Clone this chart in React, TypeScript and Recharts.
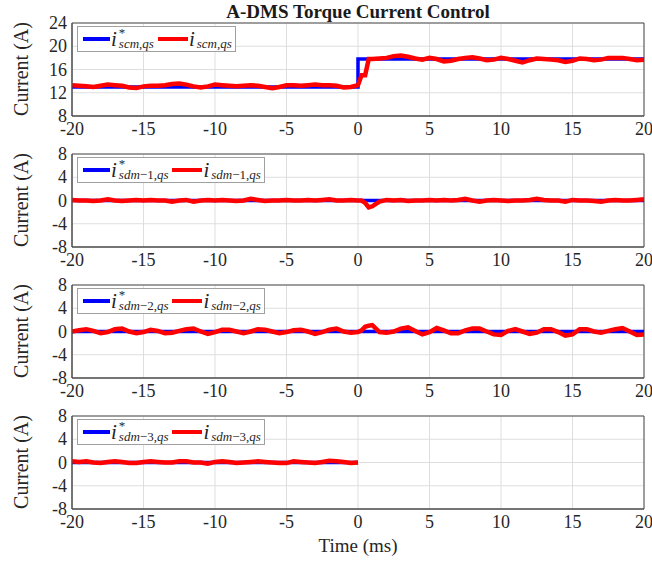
import { CartesianGrid, Line, LineChart, ReferenceArea, XAxis, YAxis } from "recharts";

const FONT = "Liberation Serif, DejaVu Serif, serif";

// time axis (ms), with a few extra samples around the step at t = 0
const time = [
  -20, -19.5, -19, -18.5, -18, -17.5, -17, -16.5, -16, -15.5,
  -15, -14.5, -14, -13.5, -13, -12.5, -12, -11.5, -11, -10.5,
  -10, -9.5, -9, -8.5, -8, -7.5, -7, -6.5, -6, -5.5,
  -5, -4.5, -4, -3.5, -3, -2.5, -2, -1.5, -1, -0.5,
  0, 0.25, 0.5, 0.75, 1, 1.5, 2, 2.5, 3, 3.5,
  4, 4.5, 5, 5.5, 6, 6.5, 7, 7.5, 8, 8.5,
  9, 9.5, 10, 10.5, 11, 11.5, 12, 12.5, 13, 13.5,
  14, 14.5, 15, 15.5, 16, 16.5, 17, 17.5, 18, 18.5,
  19, 19.5, 20,
];

const timeTicks = [-20, -15, -10, -5, 0, 5, 10, 15, 20];
const scmTicks = [8, 12, 16, 20, 24];
const sdmTicks = [-8, -4, 0, 4, 8];

// reference currents (step points)
const refScmTime = [-20, 0, 20];
const refScm = [13.0, 17.8, 17.8];
const refSdmTime = [-20, 20];
const refSdm1 = [0, 0];
const refSdm2 = [0, 0];
const refSdm3Time = [-20, 0];
const refSdm3 = [0, 0];

// measured currents
const measScm = [
  13.3, 13.2, 13.1, 13.0, 13.2, 13.4, 13.3, 13.2, 12.9, 12.8,
  13.1, 13.2, 13.2, 13.3, 13.5, 13.6, 13.4, 13.1, 12.9, 13.1,
  13.4, 13.3, 13.2, 13.1, 13.2, 13.3, 13.2, 13.0, 12.8, 13.0,
  13.3, 13.3, 13.2, 13.3, 13.4, 13.3, 13.3, 13.2, 12.9, 13.0,
  13.3, 15.0, 15.0, 17.8, 17.8, 17.9, 18.0, 18.3, 18.4, 18.2,
  17.9, 17.7, 18.0, 17.8, 17.4, 17.5, 17.8, 18.0, 18.1, 17.9,
  17.6, 17.7, 18.0, 17.8, 17.5, 17.2, 17.6, 17.9, 17.8, 17.7,
  17.6, 17.3, 17.5, 17.9, 17.8, 17.6, 17.7, 18.0, 18.0, 18.0,
  17.8, 17.6, 17.7,
];

const measSdm1 = [
  0.1, 0.0, 0.0, -0.1, 0.0, 0.2, 0.0, -0.1, 0.0, 0.1,
  0.0, 0.1, 0.0, 0.0, -0.2, 0.0, 0.1, -0.2, 0.0, 0.1,
  0.0, 0.1, 0.0, -0.1, 0.0, 0.3, 0.1, -0.1, 0.0, 0.0,
  0.1, 0.0, 0.0, 0.1, 0.0, 0.1, 0.2, 0.0, 0.0, 0.1,
  0.0, 0.0, -0.4, -1.2, -1.0, -0.2, 0.1, 0.0, 0.1, -0.1,
  0.0, 0.0, 0.1, 0.0, 0.1, 0.0, 0.1, 0.3, 0.0, -0.2,
  0.0, 0.1, 0.0, -0.1, 0.0, 0.0, 0.1, 0.3, 0.1, 0.0,
  0.0, -0.2, 0.1, 0.0, 0.0, -0.1, -0.2, 0.0, 0.1, 0.0,
  0.0, 0.1, 0.2,
];

const measSdm2 = [
  0.0, 0.2, 0.4, 0.1, -0.3, -0.1, 0.4, 0.5, 0.0, -0.3,
  -0.1, 0.3, 0.1, -0.3, -0.2, 0.1, 0.4, 0.5, 0.0, -0.4,
  -0.1, 0.3, 0.3, 0.0, -0.3, 0.0, 0.4, 0.3, 0.0, -0.3,
  -0.1, 0.2, 0.3, 0.0, -0.4, -0.1, 0.3, 0.5, 0.0, -0.2,
  -0.1, 0.2, 0.8, 1.0, 1.1, -0.1, -0.2, 0.0, 0.5, 0.7,
  0.1, -0.5, -0.1, 0.6, 0.2, -0.3, -0.3, 0.2, 0.5, 0.5,
  0.0, -0.5, -0.6, 0.1, 0.4, 0.0, -0.4, -0.2, 0.4, 0.4,
  -0.1, -0.7, -0.5, 0.4, 0.4, 0.0, -0.2, 0.1, 0.4, 0.6,
  0.0, -0.6, -0.5,
];

// only recorded up to t = 0
const measSdm3 = [
  0.2, 0.1, 0.2, 0.0, -0.1, 0.1, 0.2, 0.1, -0.1, -0.1,
  0.1, 0.2, 0.1, 0.0, 0.0, 0.2, 0.2, 0.0, 0.0, -0.2,
  0.1, 0.2, 0.1, -0.1, 0.0, 0.1, 0.2, 0.1, 0.0, -0.1,
  -0.1, 0.2, 0.1, 0.0, -0.1, 0.1, 0.3, 0.2, 0.1, -0.1,
  0.0,
];

const toPoints = (ts: number[], vs: number[]) => vs.map((v, i) => ({ t: ts[i], v }));

const XTick = (props: any) => (
  <text x={props.x} y={props.y} dy="0.72em" textAnchor="middle" fontSize={18} fill="#262626" style={{ fontFamily: FONT }}>
    {props.payload.value}
  </text>
);

const YTick = (props: any) => (
  <text x={props.x} y={props.y} dy="0.34em" textAnchor="end" fontSize={18} fill="#262626" style={{ fontFamily: FONT }}>
    {props.payload.value}
  </text>
);

function Script({ text }: { text: string }) {
  return (
    <>
      {text.split("").map((c, i) => (
        <span key={i} style={{ fontStyle: /[a-z]/.test(c) ? "italic" : "normal" }}>
          {c}
        </span>
      ))}
    </>
  );
}

function Symbol({ star, sub }: { star?: boolean; sub: string }) {
  return (
    <span style={{ display: "inline-flex", alignItems: "flex-start", whiteSpace: "nowrap" }}>
      <span style={{ fontStyle: "italic", fontSize: 21, lineHeight: "22px", marginRight: 2 }}>i</span>
      <span style={{ display: "inline-flex", flexDirection: "column" }}>
        <span style={{ fontSize: 13, lineHeight: "9px", height: 9 }}>{star ? "*" : ""}</span>
        <span style={{ fontSize: 13, lineHeight: "14px" }}>
          <Script text={sub} />
        </span>
      </span>
    </span>
  );
}

function LegendBox({ top, sub }: { top: number; sub: string }) {
  return (
    <div
      style={{
        position: "absolute",
        left: 77,
        top,
        height: 24,
        display: "flex",
        alignItems: "center",
        background: "#fff",
        border: "1px solid #a0a0a0",
        padding: "0 3px 0 5px",
        fontFamily: FONT,
        color: "#262626",
      }}
    >
      <span style={{ width: 27, height: 3.5, background: "#0000ff", marginRight: 1 }} />
      <Symbol star sub={sub} />
      <span style={{ width: 30, height: 4.5, background: "#ff0000", margin: "0 1px 0 4px" }} />
      <Symbol sub={sub} />
    </div>
  );
}

const PAD = 12;

function Panel({
  top,
  domain,
  ticks,
  refData,
  measData,
  sub,
}: {
  top: number;
  domain: [number, number];
  ticks: number[];
  refData: { t: number; v: number }[];
  measData: { t: number; v: number }[];
  sub: string;
}) {
  return (
    <>
      <div style={{ position: "absolute", left: 0, top: top - PAD }}>
        <LineChart
          width={652}
          height={PAD + 93 + 30}
          margin={{ top: PAD, right: 8, bottom: 0, left: 12 }}
          style={{ fontFamily: FONT }}
        >
          <CartesianGrid stroke="#dedede" />
          <XAxis
            type="number"
            dataKey="t"
            domain={[-20, 20]}
            ticks={timeTicks}
            interval={0}
            tick={<XTick />}
            tickLine={false}
            tickSize={0}
            axisLine={{ stroke: "#4d4d4d" }}
            tickMargin={6}
            height={30}
            allowDataOverflow
          />
          <YAxis
            type="number"
            domain={domain}
            ticks={ticks}
            interval={0}
            tick={<YTick />}
            tickLine={false}
            tickSize={0}
            axisLine={{ stroke: "#4d4d4d" }}
            tickMargin={5}
            width={60}
            allowDataOverflow
          />
          <ReferenceArea x1={-20} x2={20} y1={domain[0]} y2={domain[1]} fill="none" stroke="#4d4d4d" />
          <Line
            data={refData}
            dataKey="v"
            type="stepAfter"
            stroke="#0000ff"
            strokeWidth={3.5}
            dot={false}
            isAnimationActive={false}
          />
          <Line
            data={measData}
            dataKey="v"
            type="linear"
            stroke="#ff0000"
            strokeWidth={4.5}
            dot={false}
            isAnimationActive={false}
          />
        </LineChart>
      </div>
      <div
        style={{
          position: "absolute",
          left: 21,
          top: top + 46,
          transform: "translate(-50%, -50%) rotate(-90deg)",
          whiteSpace: "nowrap",
          fontFamily: FONT,
          fontSize: 20,
          color: "#262626",
        }}
      >
        Current (A)
      </div>
      <LegendBox top={top + 3} sub={sub} />
    </>
  );
}

export default function App() {
  return (
    <div style={{ position: "absolute", left: 0, top: 0, width: 652, height: 562, background: "#fff" }}>
      <div
        style={{
          position: "absolute",
          left: 358,
          top: 1,
          transform: "translateX(-50%)",
          whiteSpace: "nowrap",
          fontFamily: FONT,
          fontWeight: "bold",
          fontSize: 19,
          color: "#1a1a1a",
        }}
      >
        A-DMS Torque Current Control
      </div>
      <Panel
        top={23}
        domain={[8, 24]}
        ticks={scmTicks}
        refData={toPoints(refScmTime, refScm)}
        measData={toPoints(time, measScm)}
        sub="scm,qs"
      />
      <Panel
        top={154}
        domain={[-8, 8]}
        ticks={sdmTicks}
        refData={toPoints(refSdmTime, refSdm1)}
        measData={toPoints(time, measSdm1)}
        sub="sdm−1,qs"
      />
      <Panel
        top={285}
        domain={[-8, 8]}
        ticks={sdmTicks}
        refData={toPoints(refSdmTime, refSdm2)}
        measData={toPoints(time, measSdm2)}
        sub="sdm−2,qs"
      />
      <Panel
        top={416}
        domain={[-8, 8]}
        ticks={sdmTicks}
        refData={toPoints(refSdm3Time, refSdm3)}
        measData={toPoints(time, measSdm3)}
        sub="sdm−3,qs"
      />
      <div
        style={{
          position: "absolute",
          left: 358,
          top: 535,
          transform: "translateX(-50%)",
          whiteSpace: "nowrap",
          fontFamily: FONT,
          fontSize: 19,
          color: "#262626",
        }}
      >
        Time (ms)
      </div>
    </div>
  );
}
